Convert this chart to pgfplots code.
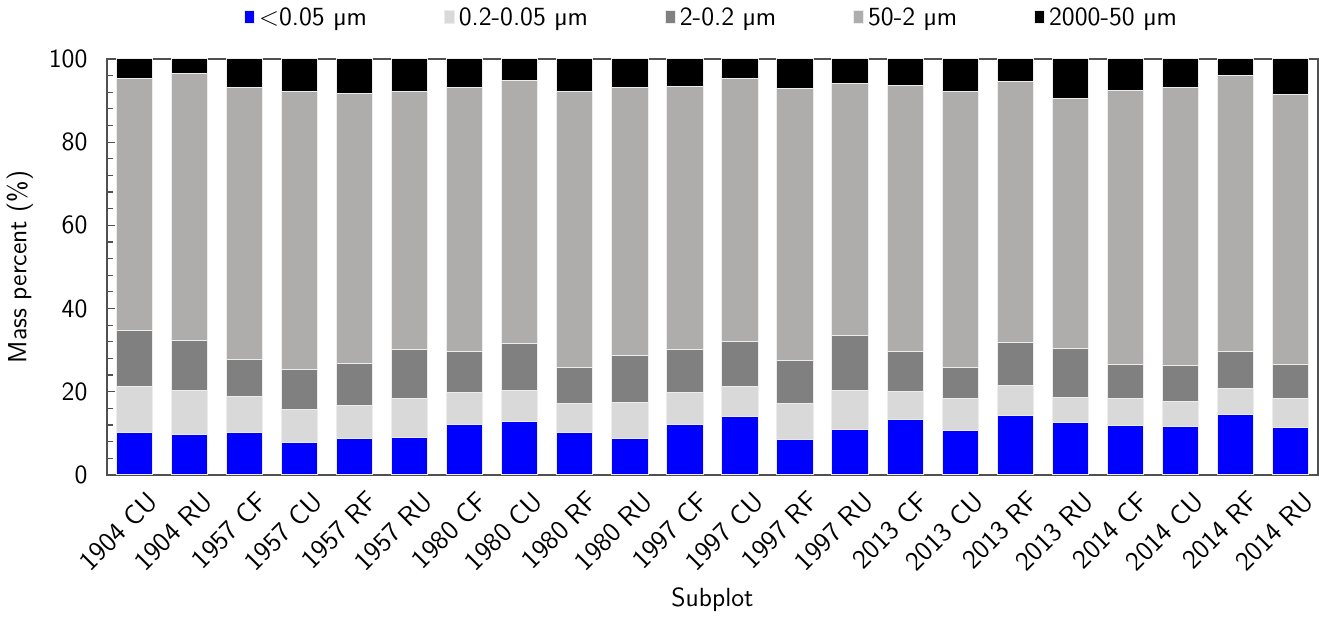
\documentclass[border=0pt]{standalone}
\usepackage{pgfplots}
\usepackage{pgfplotstable}
\pgfplotsset{compat=1.18}

\definecolor{clay}{RGB}{0,0,255}
\definecolor{fsilt}{RGB}{217,217,217}
\definecolor{csilt}{RGB}{128,128,128}
\definecolor{sand}{RGB}{175,172,172}
\definecolor{gravel}{RGB}{0,0,0}
\definecolor{axisgray}{RGB}{80,80,80}

% segment heights (mass percent) per subplot
\pgfplotstableread{
x  a     b     c     d     e
0  10.3  11.0  13.5  60.6  4.6
1  9.7   10.7  12.0  64.1  3.5
2  10.1  8.7   9.0   65.3  6.9
3  7.9   7.8   9.6   66.8  7.9
4  8.8   7.9   10.1  65.0  8.2
5  9.1   9.2   11.9  61.9  7.9
6  12.2  7.6   9.9   63.4  6.9
7  12.9  7.5   11.1  63.4  5.1
8  10.3  6.8   8.8   66.2  7.9
9  8.8   8.6   11.2  64.5  6.9
10 12.2  7.5   10.5  63.2  6.6
11 14.1  7.2   10.7  63.2  4.8
12 8.4   8.7   10.3  65.4  7.2
13 10.9  9.5   13.2  60.4  6.0
14 13.4  6.6   9.6   64.1  6.3
15 10.7  7.6   7.6   66.2  7.9
16 14.4  7.2   10.2  62.8  5.4
17 12.6  6.0   11.9  60.1  9.4
18 11.9  6.4   8.2   65.9  7.6
19 11.6  6.0   8.6   66.9  6.9
20 14.6  6.1   8.9   66.5  3.9
21 11.3  7.0   8.2   65.0  8.5
}\soil

\begin{document}
\sffamily
\begin{tikzpicture}
\begin{axis}[
  scale only axis,
  width=600pt, height=206pt,
  ybar stacked,
  bar width=0.66,
  xmin=-0.5, xmax=21.5,
  ymin=0, ymax=100,
  xtick=data,
  xticklabels={1904 CU,1904 RU,1957 CF,1957 CU,1957 RF,1957 RU,1980 CF,1980 CU,1980 RF,1980 RU,1997 CF,1997 CU,1997 RF,1997 RU,2013 CF,2013 CU,2013 RF,2013 RU,2014 CF,2014 CU,2014 RF,2014 RU},
  x tick label style={rotate=45, anchor=north east, font=\sffamily\fontsize{13.5}{14}\selectfont, inner sep=0pt, xshift=-1pt, yshift=-9pt},
  major x tick style={draw=none},
  ytick={0,20,40,60,80,100},
  minor y tick num=4,
  ytick pos=left,
  tick align=inside,
  y tick label style={font=\sffamily\fontsize{13}{14}\selectfont, xshift=-6pt},
  /pgf/number format/assume math mode=true,
  tick style={axisgray, line width=0.6pt},
  major tick length=4pt, minor tick length=3pt,
  axis line style={axisgray, line width=0.8pt},
  xlabel={Subplot},
  ylabel={Mass percent (\%)},
  label style={font=\sffamily\fontsize{13}{14}\selectfont},
  xlabel style={at={(axis description cs:0.5,-0.30)}, anchor=center},
  ylabel style={yshift=1pt},
  legend columns=5,
  legend style={at={(0.5,1.052)}, anchor=south, draw=none, fill=none,
    font=\sffamily\fontsize{13}{14}\selectfont,
    /tikz/every even column/.append style={column sep=36pt}},
  legend image code/.code={\fill[#1] (0pt,-2.5pt) rectangle (5pt,4pt);},
  every axis plot/.append style={draw=white!85!gray, line width=0.5pt},
]
\addplot[fill=clay] table[x=x, y=a] {\soil};
\addlegendentry{<0.05 µm}
\addplot[fill=fsilt] table[x=x, y=b] {\soil};
\addlegendentry{0.2-0.05 µm}
\addplot[fill=csilt] table[x=x, y=c] {\soil};
\addlegendentry{2-0.2 µm}
\addplot[fill=sand] table[x=x, y=d] {\soil};
\addlegendentry{50-2 µm}
\addplot[fill=gravel] table[x=x, y=e] {\soil};
\addlegendentry{2000-50 µm}
\end{axis}
% a little white margin under the x label
\path ([yshift=-5pt]current bounding box.south);
\end{tikzpicture}
\end{document}
